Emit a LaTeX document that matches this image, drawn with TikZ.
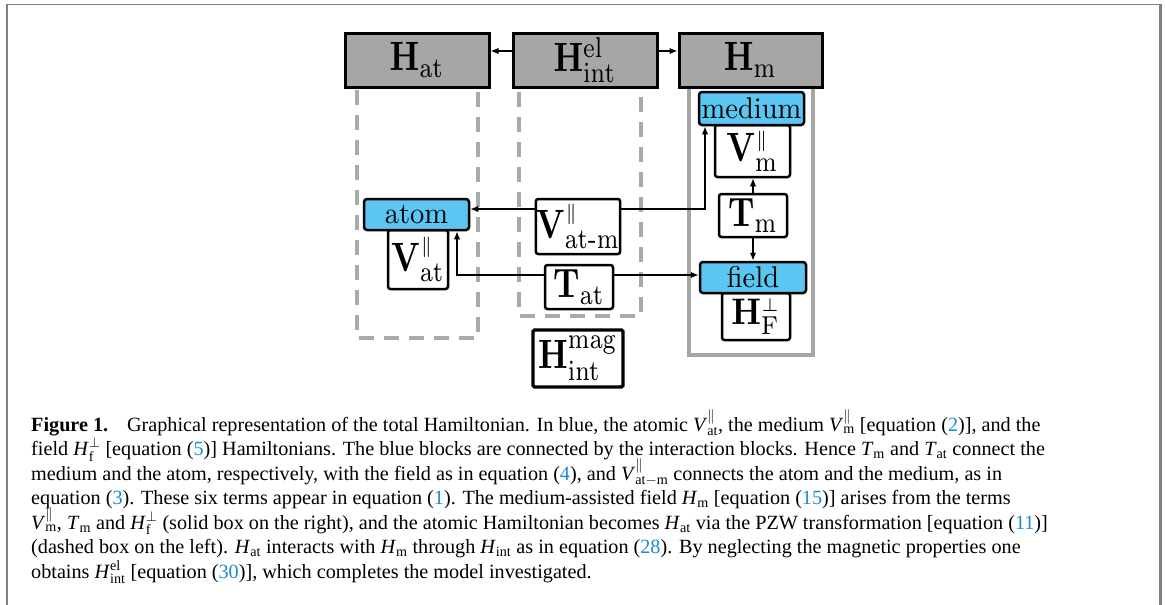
\documentclass[tikz,border=0pt]{standalone}
\usepackage{amsmath}
\usepackage[no-math]{fontspec}
\usepackage{graphicx}
\usetikzlibrary{arrows.meta,calc}
\newfontfamily\capfont{Liberation Serif}
\definecolor{bluefill}{RGB}{92,198,242}
\definecolor{topgray}{RGB}{166,166,166}
\definecolor{dashgray}{RGB}{170,170,170}
\definecolor{solidgray}{RGB}{165,165,165}
\definecolor{framegray}{RGB}{128,128,128}
\definecolor{linkblue}{RGB}{25,140,210}
\newcommand\parsup{\scriptscriptstyle\|}
\newcommand\perpsup{\scriptscriptstyle\perp}
\newcommand\lbl[1]{\scalebox{3.3}[4.1]{\fontsize{10}{12}\selectfont$#1$}}
\newcommand\lblb[1]{\scalebox{3.3}[3.7]{\fontsize{10}{12}\selectfont$#1$}}
\newcommand\blbl[1]{\scalebox{2.85}[3.0]{\fontsize{10}{12}\selectfont #1}}
\newcommand\lk[1]{\textcolor{linkblue}{#1}}
\newcommand\cv[3]{\textit{#1}$^{\text{#3}}_{\text{#2}}$}
\newcommand\cvs[2]{\textit{#1}$_{\text{#2}}$}
\begin{document}
\begin{tikzpicture}[x=1pt,y=-1pt,
  topbox/.style={draw,line width=3pt,fill=topgray,inner sep=0pt,minimum width=144pt,minimum height=54pt},
  bluebox/.style={draw,line width=2.5pt,fill=bluefill,rounded corners=3pt,inner sep=0pt},
  wbox/.style={draw,line width=2.5pt,fill=white,rounded corners=2.5pt,inner sep=0pt},
  dashln/.style={draw=dashgray,line width=4pt,dash pattern=on 15pt off 10pt},
  arr/.style={line width=1.5pt,-{Latex[length=8pt,width=6.5pt]}},
  capline/.style={anchor=base west,inner sep=0pt,font=\capfont\fontsize{20.2}{24}\selectfont}]
\useasboundingbox (0,0) rectangle (1165,605);
% frame
\draw[framegray,line width=1.2pt] (6,4.5) -- (1161,4.5);
\draw[framegray,line width=2.2pt] (7,4) -- (7,605);
\draw[framegray,line width=3pt] (1160,4) -- (1160,605);

% dashed boxes and solid gray box
\draw[dashln] (357,90) -- (357,338) -- (478,338) -- (478,90);
\draw[dashln] (519,92) -- (519,316) -- (641,316) -- (641,88);
\draw[solidgray,line width=3.5pt] (689,87) -- (689,355) -- (813,355) -- (813,87);

% top boxes
\node[topbox] (Hat) at (417,60) {\lbl{\mathbf{H}_{\mathrm{at}}}};
\node[topbox] (Hel) at (585,60) {\lbl{\mathbf{H}^{\mathrm{el}}_{\mathrm{int}}}};
\node[topbox,minimum width=143pt] (Hm) at (750.5,60) {\lbl{\mathbf{H}_{\mathrm{m}}}};

% right column
\node[wbox,minimum width=75pt,minimum height=52pt] (Vm) at (752.5,151) {\lbl{\mathbf{V}^{\parsup}_{\mathrm{m}}}};
\node[bluebox,minimum width=105pt,minimum height=33pt] (medium) at (751.5,108.5) {\blbl{medium}};
\node[wbox,minimum width=68pt,minimum height=43pt] (Tm) at (753,215.5) {\lbl{\mathbf{T}_{\mathrm{m}}}};
\node[wbox,minimum width=68pt,minimum height=47pt] (HF) at (756,316.5) {\lblb{\mathbf{H}^{\perpsup}_{\mathrm{F}}}};
\node[bluebox,minimum width=106pt,minimum height=31pt] (field) at (753,277.5) {\blbl{field}};

% left column
\node[wbox,minimum width=60pt,minimum height=59pt] (Vat) at (418,259.5) {\lbl{\mathbf{V}^{\parsup}_{\mathrm{at}}}};
\node[bluebox,minimum width=105pt,minimum height=31pt] (atom) at (416.5,214.5) {\blbl{atom}};

% middle
\node[wbox,minimum width=84pt,minimum height=55pt] (Vatm) at (578,226.5) {\lbl{\mathbf{V}^{\parsup}_{\mathrm{at\text{-}m}}}};
\node[wbox,minimum width=68pt,minimum height=44pt] (Tat) at (579,287) {\lbl{\mathbf{T}_{\mathrm{at}}}};
\node[wbox,line width=3.2pt,rounded corners=1.5pt,minimum width=90pt,minimum height=57pt] (Hmag) at (578,358.5) {\lbl{\mathbf{H}^{\mathrm{mag}}_{\mathrm{int}}}};

% helper coordinates
\coordinate (ya) at (0,209);
\coordinate (yt) at (0,275);
\coordinate (xm) at (705,0);
\coordinate (xa) at (457,0);

% connectors
\draw[arr] ([yshift=9pt]Hel.west) -- ([yshift=9pt]Hat.east);
\draw[arr] ([yshift=9pt]Hel.east) -- ([yshift=9pt]Hm.west);
\draw[arr] (Vatm.west |- ya) -- (atom.east |- ya);
\draw[arr] (Vatm.east |- ya) -| (xm |- medium.south);
\draw[arr] (Tat.west |- yt) -| (xa |- atom.south);
\draw[arr] (Tat.east |- yt) -- (field.west |- yt);
\draw[arr] (Tm.north) -- (Tm.north |- Vm.south);
\draw[arr] (Tm.south) -- (Tm.south |- field.north);

% caption
\node[capline] (c1) at (31,431) {\textbf{Figure 1.}\hspace{0.6em} Graphical representation of the total Hamiltonian. In blue, the atomic \cv{V}{at}{$\|$}, the medium \cv{V}{m}{$\|$} [equation (\lk{2})], and the};
\node[capline] (c2) at (31,455.5) {field \cv{H}{f}{$\perp$} [equation (\lk{5})] Hamiltonians. The blue blocks are connected by the interaction blocks. Hence \cvs{T}{m} and \cvs{T}{at} connect the};
\node[capline] (c3) at (31,480) {medium and the atom, respectively, with the field as in equation (\lk{4}), and \cv{V}{at$-$m}{$\|$} connects the atom and the medium, as in};
\node[capline] (c4) at (31,504.5) {equation (\lk{3}). These six terms appear in equation (\lk{1}). The medium-assisted field \cvs{H}{m} [equation (\lk{15})] arises from the terms};
\node[capline] (c5) at (31,529) {\cv{V}{m}{$\|$}, \cvs{T}{m} and \cv{H}{f}{$\perp$} (solid box on the right), and the atomic Hamiltonian becomes \cvs{H}{at} via the PZW transformation [equation (\lk{11})]};
\node[capline] (c6) at (31,553.5) {(dashed box on the left). \cvs{H}{at} interacts with \cvs{H}{m} through \cvs{H}{int} as in equation (\lk{28}). By neglecting the magnetic properties one};
\node[capline] (c7) at (31,578) {obtains \cv{H}{int}{el} [equation (\lk{30})], which completes the model investigated.};
\end{tikzpicture}
\end{document}
